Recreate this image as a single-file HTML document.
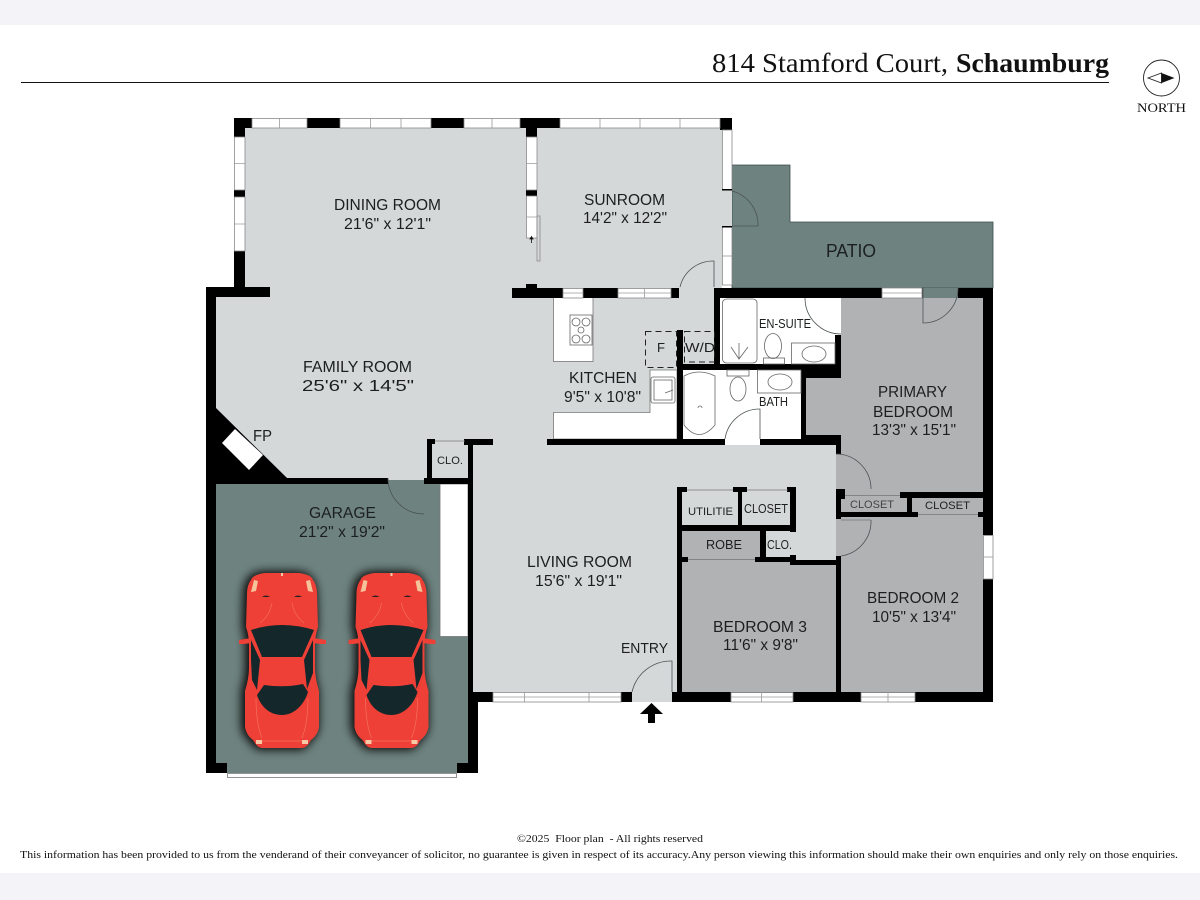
<!DOCTYPE html>
<html lang="en"><head><meta charset="utf-8"><title>814 Stamford Court floor plan</title>
<style>
html,body{margin:0;padding:0;background:#fff}
svg{display:block}
.l{font-family:"Liberation Sans",sans-serif;font-size:16px;fill:#1c1f20}
.s{font-family:"Liberation Sans",sans-serif;font-size:12.5px;fill:#1c1f20}
.t{font-family:"Liberation Serif",serif;fill:#111}
.w{fill:#fff;stroke:#8a8a8a;stroke-width:.8}
.d{stroke:#9a9a9a;stroke-width:.8;fill:none}
.a{fill:none;stroke:#4c5354;stroke-width:.8}
.f{fill:#fff;stroke:#777;stroke-width:.8}
.o{fill:none;stroke:#777;stroke-width:.8}
.h{fill:none;stroke:#222;stroke-width:1;stroke-dasharray:6 4}
</style></head><body>
<svg width="1200" height="900" viewBox="0 0 1200 900" xmlns="http://www.w3.org/2000/svg">
<defs>
<filter id="b" x="-40%" y="-30%" width="180%" height="160%"><feGaussianBlur stdDeviation="5"/></filter>
<path id="body" d="M-17 0C-24 1-30 3-31 7C-34 11-35 16-35 21L-36 54Q-33 62-33 72L-33 95Q-33 105-37 118L-37 154C-36 160-33 164-29 167C-26 172-24 175-19 175L19 175C24 175 26 172 29 167C33 164 36 160 37 154L37 118Q33 105 33 95L33 72Q33 62 36 54L35 21C35 16 34 11 31 7C30 3 24 1 17 0Z"/>
<g id="car">
<use href="#body" x="-2" y="0" fill="#000" stroke="#000" stroke-width="3" filter="url(#b)"/>
<path d="M-31 65L-43 67-43 71-38 71-31 70ZM31 65L44 67 44 71 39 71 31 70Z" fill="#ee4036"/>
<use href="#body" fill="#ee4036"/>
<path d="M-31 57Q0 47 32 57L20 84-20 84Z" fill="#14272b"/>
<path d="M-31 67L-22 87-25 117-30 107-31 87ZM31 67L22 87 25 116 31 100 31 80Z" fill="#14272b"/>
<path d="M-25 122L-18 112Q2 115 21 111L26 119C22 132 12 142 0 142C-12 142-21 134-25 122Z" fill="#14272b"/>
<path d="M-28 7L-24 8-26 18-31 19ZM28 7L24 8 26 18 31 19Z" fill="#f6c49a"/>
<path d="M-20 24Q-16 21-12 24ZM12 24Q16 21 20 24Z" fill="#222"/>
<path d="M-26 167L-20 167-20 171-26 171ZM20 167L26 167 26 171 20 171ZM-1 0L1 0 1 3-1 3Z" fill="#f8c9a6"/>
<path d="M-10 30Q-12 42-22 50M10 30Q12 42 22 50M-26 125Q-26 150-20 165M26 125Q26 150 20 165M-20 168H20" fill="none" stroke="#f4705f" stroke-width=".7"/>
</g>
</defs>
<rect width="1200" height="900" fill="#fff"/>
<rect width="1200" height="25" fill="#f4f3f7"/>
<rect y="873" width="1200" height="27" fill="#f4f3f7"/>

<!-- header -->
<text class="t" x="712" y="72" font-size="27" textLength="236" lengthAdjust="spacingAndGlyphs">814 Stamford Court,</text>
<text class="t" x="956" y="72" font-size="27" font-weight="700" textLength="153" lengthAdjust="spacingAndGlyphs">Schaumburg</text>
<rect x="21" y="82" width="1088" height="1" fill="#111"/>
<circle cx="1161.5" cy="78" r="18" fill="#fff" stroke="#222" stroke-width=".9"/>
<path d="M1148 78L1161.5 73 1161.5 83Z" fill="#fff" stroke="#222" stroke-width=".9"/>
<path d="M1161.5 73L1174.5 78 1161.5 83Z" fill="#111"/>
<text class="t" x="1137" y="112" font-size="13" textLength="49" lengthAdjust="spacingAndGlyphs">NORTH</text>

<!-- patio -->
<path d="M732 165H790V222H993V288H732Z" fill="#6e8380" stroke="#3d4a48" stroke-width=".8"/>
<!-- garage -->
<rect x="216" y="484" width="252" height="279" fill="#6e8380"/>
<rect x="227" y="760" width="230" height="13" fill="#6e8380"/>
<rect x="388" y="478" width="36" height="6" fill="#6e8380"/>
<rect x="440" y="484" width="28" height="152.500" fill="#fff" stroke="#777" stroke-width=".8"/>
<rect x="227.500" y="773.500" width="229" height="4" fill="#fff" stroke="#777" stroke-width=".8"/>

<!-- light rooms -->
<g fill="#d5d8d9">
<rect x="245" y="128" width="477" height="165"/>
<rect x="216" y="290" width="461" height="190"/>
<rect x="473" y="440" width="204" height="252"/>
<rect x="473" y="445" width="363" height="115"/>
<rect x="677" y="290" width="37" height="80"/>
<rect x="722" y="190" width="10" height="37"/>
<rect x="632" y="692" width="40" height="10"/>
</g>
<!-- grey rooms -->
<g fill="#b1b2b4">
<rect x="841" y="298" width="142" height="220"/>
<rect x="806" y="378" width="35" height="60"/>
<rect x="836" y="445" width="147" height="75"/>
<rect x="836" y="517" width="147" height="175"/>
<rect x="682" y="560" width="154" height="132"/>
<rect x="682" y="531" width="78" height="29"/>
</g>
<!-- white rooms -->
<rect x="720" y="298" width="121" height="67" fill="#fff"/>
<rect x="683" y="370" width="118" height="69" fill="#fff"/>
<rect x="725" y="439" width="35" height="6" fill="#fff"/>
<!-- counters -->
<rect class="f" x="553.500" y="297" width="39.500" height="64.500"/>
<path class="f" d="M553.500 439V412.500H650V370H677V439Z"/>

<!-- walls -->
<g fill="#000">
<rect x="234" y="118" width="18" height="10"/><rect x="307" y="118" width="33" height="10"/><rect x="431" y="118" width="33" height="10"/><rect x="520" y="118" width="40" height="10"/><rect x="720" y="118" width="12" height="12"/>
<rect x="234" y="118" width="11" height="19"/><rect x="234" y="190" width="11" height="7"/><rect x="234" y="251" width="11" height="46"/>
<rect x="526" y="128" width="11" height="9"/><rect x="526" y="190" width="11" height="6"/><rect x="526" y="284" width="11" height="5"/>
<rect x="206" y="287" width="64" height="10"/><rect x="512" y="288" width="51" height="10"/><rect x="583" y="288" width="35" height="10"/><rect x="671" y="288" width="8" height="10"/>
<rect x="206" y="287" width="10" height="486"/>
<path d="M216 408L287 478H216Z"/>
<rect x="216" y="478" width="172" height="6"/><rect x="424" y="478" width="44" height="6"/>
<rect x="427" y="439" width="5" height="41"/><rect x="427" y="439" width="8" height="5"/><rect x="464" y="439" width="29" height="6"/>
<rect x="468" y="439" width="5" height="263"/><rect x="468" y="693" width="10" height="80"/>
<rect x="206" y="763" width="21" height="10"/><rect x="457" y="763" width="21" height="10"/>
<rect x="473" y="692" width="20" height="10"/><rect x="621" y="692" width="11" height="10"/><rect x="672" y="692" width="321" height="10"/>
<rect x="677" y="487" width="5" height="205"/>
<rect x="547" y="439" width="178" height="6"/><rect x="760" y="439" width="76" height="6"/><rect x="801" y="435" width="40" height="10"/>
<rect x="677" y="330" width="6" height="109"/>
<rect x="714" y="288" width="6" height="82"/><rect x="714" y="288" width="279" height="10"/>
<rect x="683" y="364" width="158" height="6"/><rect x="835" y="335" width="6" height="43"/><rect x="801" y="370" width="40" height="8"/><rect x="801" y="370" width="5" height="75"/>
<rect x="836" y="445" width="5" height="9"/><rect x="836" y="489" width="9" height="10"/><rect x="836" y="489" width="5" height="30"/>
<rect x="836" y="512" width="82" height="5"/><rect x="900" y="492" width="83" height="6"/><rect x="907" y="492" width="5" height="20"/><rect x="978" y="512" width="5" height="5"/>
<rect x="836" y="556" width="5" height="136"/>
<rect x="983" y="288" width="10" height="247"/><rect x="983" y="579" width="10" height="123"/>
<rect x="677" y="487" width="10" height="5"/><rect x="733" y="487" width="14" height="5"/><rect x="787" y="487" width="9" height="5"/>
<rect x="738" y="492" width="4" height="33"/><rect x="790" y="487" width="6" height="45"/><rect x="682" y="525" width="114" height="6"/>
<rect x="760" y="531" width="6" height="29"/><rect x="682" y="557" width="6" height="5"/><rect x="755" y="557" width="35" height="5"/>
<rect x="790" y="555" width="6" height="10"/><rect x="790" y="560" width="46" height="5"/>
</g>
<!-- patio door notch in wall -->
<rect x="923" y="288" width="35" height="10" fill="#6e8380"/>
<rect x="882" y="288" width="40" height="10" class="w"/>
<path class="d" d="M882 293H922"/>

<!-- thin lines -->
<path class="o" d="M435 441H465M687 490H733M747 490H788M688 559.500H755M918 514.500H978M845 495.500H900"/>

<!-- windows -->
<g>
<rect class="w" x="252" y="118.500" width="55" height="9.500"/><rect class="w" x="340" y="118.500" width="91" height="9.500"/><rect class="w" x="464" y="118.500" width="56" height="9.500"/><rect class="w" x="560" y="118.500" width="160" height="9.500"/>
<path class="d" d="M279.500 118V128M370.500 118V128M401 118V128M492 118V128M600 118V128M640 118V128M680 118V128"/>
<rect class="w" x="234.500" y="137" width="10.500" height="53"/><rect class="w" x="234.500" y="197" width="10.500" height="54"/>
<path class="d" d="M234 163.500H245M234 224H245"/>
<rect class="w" x="526.500" y="137" width="10.500" height="53"/><rect class="w" x="526.500" y="196" width="10.500" height="42"/>
<path class="d" d="M526 163.500H537M526 217H537"/>
<rect x="537" y="216" width="3" height="45" fill="#d5d8d9" stroke="#8a8a8a" stroke-width=".8"/>
<path d="M531.500 237V243M530 239L531.500 236.500 533 239Z" stroke="#111" stroke-width=".8" fill="#111"/>
<rect class="w" x="722.500" y="130" width="9.500" height="60"/><rect class="w" x="722.500" y="227" width="9.500" height="58"/>
<path class="d" d="M722 256H732"/>
<rect x="722" y="189" width="10" height="1.500" fill="#000"/><rect x="722" y="226" width="10" height="1.500" fill="#000"/>
<rect class="w" x="563" y="288.500" width="20" height="9.500"/><rect class="w" x="618" y="288.500" width="53" height="9.500"/>
<path class="d" d="M644.500 288V298M563 293H583M618 293H671"/>
<rect class="w" x="493" y="692.500" width="128" height="9.500"/>
<path class="d" d="M493 697H621M524.500 692V702M589 692V702"/>
<rect class="w" x="731" y="692.500" width="62" height="9.500"/>
<path class="d" d="M731 697H793M761.500 692V702"/>
<rect class="w" x="861" y="692.500" width="54" height="9.500"/>
<path class="d" d="M861 697H915M888 692V702"/>
<rect class="w" x="983.500" y="535.500" width="9.500" height="43.500"/>
<path class="d" d="M983 557H993"/>
</g>

<!-- fireplace -->
<path d="M235 429L263 455 249 470 222 443Z" fill="#fff"/>

<!-- doors -->
<g>
<path class="a" d="M388 478A36 36 0 0 0 424 514"/>
<path class="a" d="M732 191A35 35 0 0 1 758 226H732"/>
<path class="a" d="M680 287A34 34 0 0 1 714 261V287"/>
<path class="a" d="M923 287V323A35 35 0 0 0 958 288"/>
<path class="a" d="M805 298A36 36 0 0 0 841 334"/>
<path class="a" d="M725 439A35 35 0 0 1 760 409V439"/>
<path class="a" d="M836 454A35 35 0 0 1 871 489"/>
<path class="a" d="M871 520A35 35 0 0 1 841 556"/>
<path class="o" d="M841 520H871"/>
<path class="a" d="M632 692A40 40 0 0 1 672 661V692"/>
</g>
<!-- entry arrow -->
<path d="M651.500 703L663 714H655V723H648V714H640Z" fill="#000"/>

<!-- fixtures -->
<g fill="none" stroke="#666" stroke-width=".8">
<rect x="570" y="315" width="22" height="30"/>
<circle cx="576" cy="322" r="4"/><circle cx="586" cy="322" r="4"/><circle cx="581" cy="330" r="3"/><circle cx="576" cy="339" r="4"/><circle cx="586" cy="339" r="4"/>
<rect x="651" y="377" width="24" height="26" rx="2"/><rect x="654" y="380" width="18" height="20"/>
<path d="M665 393L673 390"/>
<rect x="722.500" y="299" width="34.500" height="64" rx="4"/>
<path d="M731 347L739 359 748 347M739 343V359"/>
<ellipse cx="773" cy="346" rx="8.500" ry="12.500"/><rect x="763.500" y="358" width="21" height="6"/>
<rect x="791.500" y="343" width="43.500" height="21"/><ellipse cx="814" cy="354" rx="12" ry="8"/>
<path d="M684 376Q699 368 715 376V425Q699 444 684 425Z"/><path d="M698 408A2 2 0 0 1 702 408"/>
<ellipse cx="738" cy="389" rx="8" ry="12"/><rect x="727" y="370" width="22" height="6"/>
<rect x="757.500" y="370" width="43.500" height="23"/><ellipse cx="780" cy="382" rx="12" ry="8"/>
</g>
<rect class="h" x="645.500" y="331.500" width="31" height="36"/>
<rect class="h" x="684.500" y="331.500" width="30" height="30.500"/>

<!-- cars -->
<use href="#car" x="282" y="573"/>
<use href="#car" x="391.500" y="573"/>

<!-- labels -->
<g>
<text class="l" x="334" y="210" textLength="107" lengthAdjust="spacingAndGlyphs">DINING ROOM</text>
<text class="l" x="344" y="229" textLength="87" lengthAdjust="spacingAndGlyphs">21'6" x 12'1"</text>
<text class="l" x="584" y="205" textLength="81" lengthAdjust="spacingAndGlyphs">SUNROOM</text>
<text class="l" x="583" y="223" textLength="84" lengthAdjust="spacingAndGlyphs">14'2" x 12'2"</text>
<text class="l" x="826" y="257" textLength="50" lengthAdjust="spacingAndGlyphs" style="font-size:18px">PATIO</text>
<text class="s" x="759" y="328" textLength="52" lengthAdjust="spacingAndGlyphs">EN-SUITE</text>
<text class="s" x="657" y="352" textLength="8" lengthAdjust="spacingAndGlyphs">F</text>
<text class="s" x="685" y="352" textLength="30" lengthAdjust="spacingAndGlyphs">W/D</text>
<text class="l" x="569" y="383" textLength="68" lengthAdjust="spacingAndGlyphs">KITCHEN</text>
<text class="l" x="564" y="402" textLength="77" lengthAdjust="spacingAndGlyphs">9'5" x 10'8"</text>
<text class="s" x="759" y="406" textLength="29" lengthAdjust="spacingAndGlyphs">BATH</text>
<text class="l" x="878" y="397" textLength="69" lengthAdjust="spacingAndGlyphs">PRIMARY</text>
<text class="l" x="873" y="417" textLength="80" lengthAdjust="spacingAndGlyphs">BEDROOM</text>
<text class="l" x="872" y="435" textLength="84" lengthAdjust="spacingAndGlyphs">13'3" x 15'1"</text>
<text class="l" x="303" y="372" textLength="109" lengthAdjust="spacingAndGlyphs">FAMILY ROOM</text>
<text class="l" x="302" y="391" textLength="112" lengthAdjust="spacingAndGlyphs">25'6" x 14'5"</text>
<text class="l" x="253" y="441" textLength="19" lengthAdjust="spacingAndGlyphs">FP</text>
<text class="s" x="437" y="464" textLength="26" lengthAdjust="spacingAndGlyphs" style="font-size:11px">CLO.</text>
<text class="l" x="309" y="518" textLength="67" lengthAdjust="spacingAndGlyphs">GARAGE</text>
<text class="l" x="299" y="537" textLength="86" lengthAdjust="spacingAndGlyphs">21'2" x 19'2"</text>
<text class="l" x="527" y="567" textLength="105" lengthAdjust="spacingAndGlyphs">LIVING ROOM</text>
<text class="l" x="535" y="586" textLength="87" lengthAdjust="spacingAndGlyphs">15'6" x 19'1"</text>
<text class="l" x="621" y="653" textLength="47" lengthAdjust="spacingAndGlyphs" style="font-size:14.5px">ENTRY</text>
<text class="s" x="688" y="515" textLength="45" lengthAdjust="spacingAndGlyphs" style="font-size:11px">UTILITIE</text>
<text class="s" x="744" y="513" textLength="44" lengthAdjust="spacingAndGlyphs">CLOSET</text>
<text class="s" x="706" y="549" textLength="36" lengthAdjust="spacingAndGlyphs">ROBE</text>
<text class="s" x="767" y="549" textLength="25" lengthAdjust="spacingAndGlyphs">CLO.</text>
<text class="s" x="850" y="508" textLength="44" lengthAdjust="spacingAndGlyphs" style="font-size:11px;fill:#444">CLOSET</text>
<text class="s" x="925" y="509" textLength="45" lengthAdjust="spacingAndGlyphs" style="font-size:11px">CLOSET</text>
<text class="l" x="867" y="603" textLength="92" lengthAdjust="spacingAndGlyphs">BEDROOM 2</text>
<text class="l" x="872" y="622" textLength="84" lengthAdjust="spacingAndGlyphs">10'5" x 13'4"</text>
<text class="l" x="713" y="632" textLength="94" lengthAdjust="spacingAndGlyphs">BEDROOM 3</text>
<text class="l" x="723" y="650" textLength="75" lengthAdjust="spacingAndGlyphs">11'6" x 9'8"</text>
</g>

<!-- footer -->
<text class="t" x="517" y="842" font-size="11" textLength="186" lengthAdjust="spacingAndGlyphs" xml:space="preserve">©2025  Floor plan  - All rights reserved</text>
<text class="t" x="20" y="858" font-size="11" textLength="1158" lengthAdjust="spacingAndGlyphs">This information has been provided to us from the venderand of their conveyancer of solicitor, no guarantee is given in respect of its accuracy.Any person viewing this information should make their own enquiries and only rely on those enquiries.</text>
</svg>
</body></html>
